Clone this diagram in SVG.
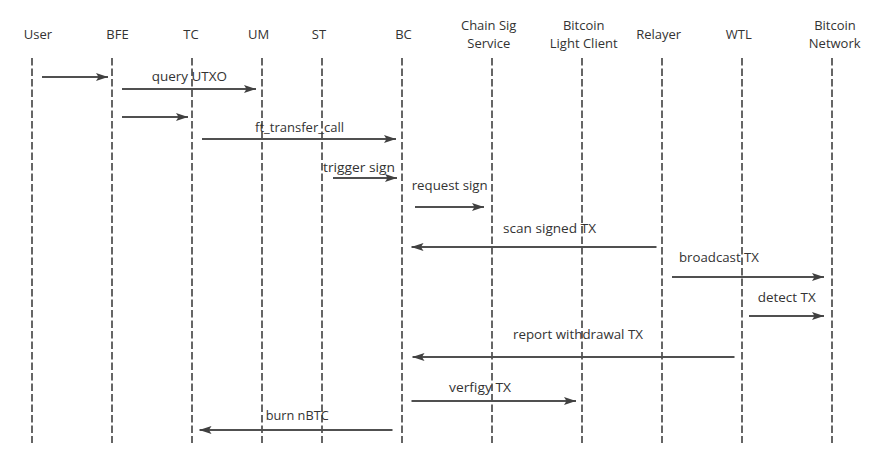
<svg xmlns="http://www.w3.org/2000/svg" width="875" height="476" viewBox="0 0 875 476">
<style>
.life{stroke:#666;stroke-width:2;stroke-dasharray:7.5 3;fill:none}
.msg{stroke:#505050;stroke-width:2;fill:none;marker-end:url(#ah)}
text{font-family:"Open Sans","Liberation Sans",sans-serif;font-size:13px;fill:#333}
.h{text-anchor:middle}
</style>
<defs>
<marker id="ah" markerWidth="12" markerHeight="8" refX="12" refY="4" orient="auto" markerUnits="userSpaceOnUse">
<path d="M0,0 L12,4 L0,8 L2.5,4 z" fill="#404040"/>
</marker>
</defs>
<rect width="875" height="476" fill="#fff"/>
<g id="user"><text class="h" x="38" y="39">User</text><line class="life" x1="32" y1="58" x2="32" y2="443"/></g>
<g id="bfe"><text class="h" x="117.5" y="39">BFE</text><line class="life" x1="112" y1="58" x2="112" y2="443"/></g>
<g id="tc"><text class="h" x="191" y="39">TC</text><line class="life" x1="192" y1="58" x2="192" y2="443"/></g>
<g id="um"><text class="h" x="258.5" y="39">UM</text><line class="life" x1="262" y1="58" x2="262" y2="443"/></g>
<g id="st"><text class="h" x="319" y="39">ST</text><line class="life" x1="322" y1="58" x2="322" y2="443"/></g>
<g id="bc"><text class="h" x="403.5" y="39">BC</text><line class="life" x1="402" y1="58" x2="402" y2="443"/></g>
<g id="chainsig"><text class="h" x="488.7" y="30">Chain Sig</text><text class="h" x="488.8" y="47.7">Service</text><line class="life" x1="492" y1="58" x2="492" y2="443"/></g>
<g id="blc"><text class="h" x="583.7" y="30">Bitcoin</text><text class="h" x="583.7" y="47.7">Light Client</text><line class="life" x1="582" y1="58" x2="582" y2="443"/></g>
<g id="relayer"><text class="h" x="658.7" y="39">Relayer</text><line class="life" x1="662" y1="58" x2="662" y2="443"/></g>
<g id="wtl"><text class="h" x="738.8" y="39">WTL</text><line class="life" x1="742" y1="58" x2="742" y2="443"/></g>
<g id="btcnet"><text class="h" x="835" y="30">Bitcoin</text><text class="h" x="834.7" y="47.7">Network</text><line class="life" x1="832" y1="58" x2="832" y2="443"/></g>
<g id="connectors">
<line class="msg" x1="42" y1="77" x2="108" y2="77"/>
<line class="msg" x1="122" y1="89" x2="256" y2="89"/>
<text x="151.7" y="81" textLength="75.3" lengthAdjust="spacingAndGlyphs">query UTXO</text>
<line class="msg" x1="122" y1="117" x2="188" y2="117"/>
<line class="msg" x1="202" y1="139" x2="396" y2="139"/>
<text x="255" y="132" textLength="89" lengthAdjust="spacingAndGlyphs">ft_transfer_call</text>
<line class="msg" x1="333" y1="178" x2="397" y2="178"/>
<text x="323" y="172" textLength="72" lengthAdjust="spacingAndGlyphs">trigger sign</text>
<line class="msg" x1="415" y1="207" x2="484" y2="207"/>
<text x="411.7" y="190" textLength="76" lengthAdjust="spacingAndGlyphs">request sign</text>
<line class="msg" x1="656.5" y1="247" x2="411.5" y2="247"/>
<text x="503" y="233" textLength="93" lengthAdjust="spacingAndGlyphs">scan signed TX</text>
<line class="msg" x1="672" y1="277" x2="824" y2="277"/>
<text x="679" y="262" textLength="80" lengthAdjust="spacingAndGlyphs">broadcast TX</text>
<line class="msg" x1="749" y1="316" x2="824" y2="316"/>
<text x="757.7" y="302" textLength="58" lengthAdjust="spacingAndGlyphs">detect TX</text>
<line class="msg" x1="734.5" y1="357" x2="412.5" y2="357"/>
<text x="513" y="338.5" textLength="130" lengthAdjust="spacingAndGlyphs">report withdrawal TX</text>
<line class="msg" x1="411.5" y1="401" x2="576" y2="401"/>
<text x="449" y="392" textLength="62" lengthAdjust="spacingAndGlyphs">verfigy TX</text>
<line class="msg" x1="392.5" y1="430" x2="199.5" y2="430"/>
<text x="265.7" y="420" textLength="63" lengthAdjust="spacingAndGlyphs">burn nBTC</text>
</g>
</svg>
